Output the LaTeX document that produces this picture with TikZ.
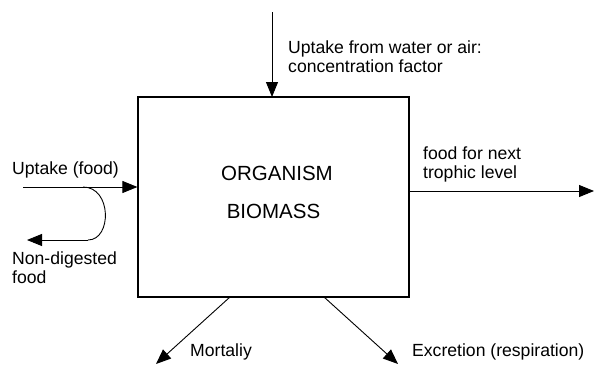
\documentclass[tikz,border=0pt]{standalone}
\usepackage{fontspec}
\setmainfont{Liberation Sans}
\usetikzlibrary{arrows.meta}
\begin{document}
\begin{tikzpicture}[x=1pt,y=-1pt,
  flow/.style={line width=0.9pt,-{Triangle[length=15pt,width=12pt]}},
  lbl/.style={font=\fontsize{17.6}{19}\selectfont,inner sep=0pt,align=left},
  big/.style={font=\fontsize{20.5}{22}\selectfont,inner sep=0pt},
  boxstyle/.style={draw,line width=1.2pt,inner sep=0pt}]
\useasboundingbox (0,0) rectangle (594,364);
\node[boxstyle,minimum width=271pt,minimum height=200pt] (box) at (273.5,197) {};
\node[big] (org) at (277,173) {ORGANISM};
\node[big] (bio) at (273.5,211) {BIOMASS};
% top
\coordinate (topstart) at (272,12);
\draw[flow] (topstart) -- (272,97);
\node[lbl,anchor=west] (tl) at (288,57) {Uptake from water or air:\\concentration factor};
% left
\coordinate (lstart) at (23,187);
\draw[flow] (lstart) -- (box.west |- lstart);
\node[lbl,anchor=west] (upf) at (12,170) {Uptake (food)};
\coordinate (c1) at (83,187);
\coordinate (c2) at (88,240);
\coordinate (ltip) at (27,240);
\draw[line width=0.9pt] (c1) .. controls (112,187) and (112,240) .. (c2);
\draw[flow] (c2) -- (ltip);
\node[lbl,anchor=west] (nd) at (12,268) {Non-digested\\food};
% right
\coordinate (rtip) at (594,191);
\draw[flow] (box.east |- rtip) -- (rtip);
\node[lbl,anchor=west] (ff) at (423,164) {food for next\\trophic level};
% bottom
\coordinate (b1) at (230,297);
\coordinate (b1t) at (156,364);
\coordinate (b2) at (324,297);
\coordinate (b2t) at (398,364);
\draw[flow] (b1) -- (b1t);
\draw[flow] (b2) -- (b2t);
\node[lbl,anchor=west] (mort) at (190,352) {Mortaliy};
\node[lbl,anchor=west] (exc) at (412,352) {Excretion (respiration)};
\end{tikzpicture}
\end{document}
